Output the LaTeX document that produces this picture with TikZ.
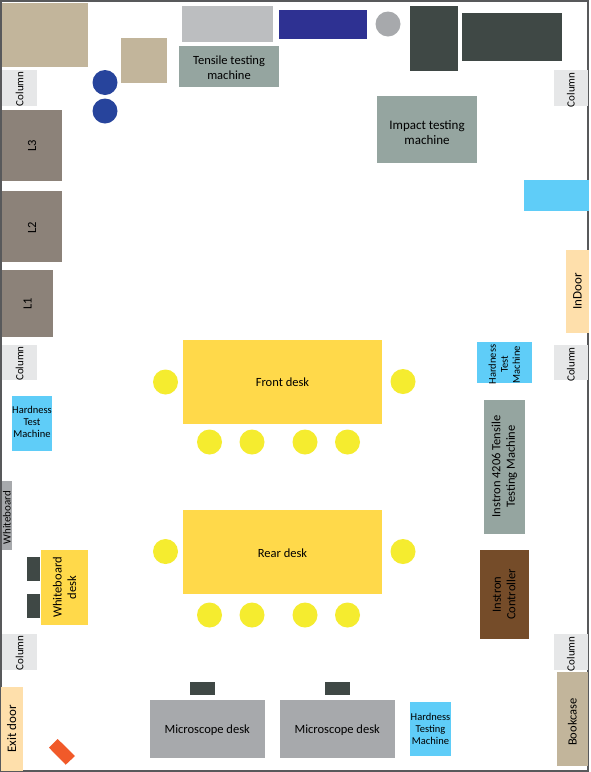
\documentclass[tikz,border=0pt]{standalone}
\usepackage{fontspec}
\setmainfont{Carlito}
\definecolor{tan}{HTML}{C2B59B}
\definecolor{lrack}{HTML}{8C8279}
\definecolor{sage}{HTML}{95A5A0}
\definecolor{darkbox}{HTML}{3F4845}
\definecolor{navy}{HTML}{2E3192}
\definecolor{bluedisc}{HTML}{27449C}
\definecolor{greyA}{HTML}{BCBEC0}
\definecolor{greyB}{HTML}{A7A9AC}
\definecolor{columncol}{HTML}{E6E7E8}
\definecolor{desk}{HTML}{FFD94A}
\definecolor{chair}{HTML}{F5EC2F}
\definecolor{cyanbox}{HTML}{5FCDF8}
\definecolor{doorcol}{HTML}{FEDFAB}
\definecolor{browncol}{HTML}{754C29}
\definecolor{orangecol}{HTML}{F15A29}
\definecolor{framecol}{HTML}{58595B}
\tikzset{
  room/.style={inner sep=0pt,outer sep=0pt,align=center,text=black,font=\fontsize{12.5}{14.5}\selectfont},
  big/.style={font=\fontsize{13}{14.5}\selectfont},
  small/.style={font=\fontsize{10.5}{12}\selectfont},
  wide/.style={font=\fontsize{11}{12}\selectfont},
  tiny/.style={font=\fontsize{11}{12}\selectfont},
  disc/.style={circle,inner sep=0pt,outer sep=0pt,minimum size=25pt},
}
% box with horizontal text: name x0 y0 x1 y1 colour options text
\newcommand{\hbx}[8]{%
  \pgfmathsetmacro{\cxx}{(#2+#4)/2}\pgfmathsetmacro{\cyy}{(#3+#5)/2+1}%
  \fill[#6] (#2,#3) rectangle (#4,#5);
  \node[room,#7] (#1) at (\cxx,\cyy) {#8};}
% box with rotated text
\newcommand{\vbx}[8]{%
  \pgfmathsetmacro{\cxx}{(#2+#4)/2}\pgfmathsetmacro{\cyy}{(#3+#5)/2}%
  \fill[#6] (#2,#3) rectangle (#4,#5);
  \node[room,rotate=90,#7] (#1) at (\cxx,\cyy) {#8};}
\begin{document}
\begin{tikzpicture}[x=1pt,y=-1pt]
\useasboundingbox (0,0) rectangle (590,772);
\fill[white] (0,0) rectangle (590,772);
\draw[framecol,line width=1.2pt] (1,1) rectangle (588,771);
% top left
\hbx{tanA}{1.5}{3}{88}{66.7}{tan}{}{}
\hbx{tanB}{121}{38}{167}{83}{tan}{}{}
\hbx{greyTop}{182}{6}{273}{42}{greyA}{}{}
\hbx{navyTop}{278.5}{9.5}{366.5}{38.5}{navy}{}{}
\node[disc,fill=greyB] (discG) at (388,24) {};
\hbx{darkA}{410}{5.5}{458}{71}{darkbox}{}{}
\hbx{darkB}{462}{13}{562}{61}{darkbox}{}{}
\hbx{tensile}{179}{46}{279}{87}{sage}{}{Tensile testing\\machine}
\node[disc,fill=bluedisc] (discA) at (105,82.5) {};
\node[disc,fill=bluedisc] (discB) at (105,111) {};
\hbx{impact}{377}{96}{477}{163}{sage}{big,yshift=-2pt}{Impact testing\\machine}
% left side
\vbx{colA}{2}{70}{37}{105.5}{columncol}{tiny,xshift=-1pt}{Column}
\vbx{lthree}{2}{109.5}{62}{180.5}{lrack}{xshift=-1pt}{L3}
\vbx{ltwo}{2}{191}{62}{262}{lrack}{xshift=-1pt}{L2}
\vbx{lone}{2}{270}{53}{337}{lrack}{}{L1}
\vbx{colB}{2}{345}{37}{380}{columncol}{tiny,xshift=-1pt}{Column}
\hbx{hardL}{12}{396}{52}{451}{cyanbox}{small,yshift=3pt}{Hardness\\Test\\Machine}
\vbx{wboard}{1.5}{481}{12}{550}{greyB}{wide,xshift=-2pt}{Whiteboard}
\hbx{darkC}{27}{557}{40}{581}{darkbox}{}{}
\hbx{darkD}{27}{594}{40}{618}{darkbox}{}{}
\vbx{wdesk}{41}{550}{88}{625}{desk}{}{Whiteboard\\desk}
\vbx{colC}{2}{634}{37}{669.5}{columncol}{tiny,xshift=-1pt}{Column}
\vbx{exitdoor}{1}{687}{22.5}{771}{doorcol}{big}{Exit door}
\fill[orangecol] (49,747.7) -- (57.7,739) -- (75,756) -- (65.7,764.7) -- cycle;
% right side
\vbx{colD}{553.5}{70}{588}{105.5}{columncol}{tiny,xshift=-2pt}{Column}
\hbx{cyanR}{524}{180}{589}{211}{cyanbox}{}{}
\vbx{indoor}{566}{250}{589}{333}{doorcol}{big}{InDoor}
\vbx{hardR}{476.5}{342}{532}{383}{cyanbox}{small,xshift=-2pt}{Hardness\\Test\\Machine}
\vbx{colE}{553.5}{345}{588}{380}{columncol}{tiny,xshift=-2pt}{Column}
\vbx{instron}{484}{399.5}{524.5}{533.5}{sage}{}{Instron 4206 Tensile\\Testing Machine}
\vbx{controller}{480}{550}{528.5}{639}{browncol}{}{Instron\\Controller}
\vbx{colF}{553.5}{634}{588}{669.5}{columncol}{tiny,xshift=-2pt}{Column}
\vbx{bookcase}{556.5}{672}{588}{766}{tan}{xshift=-3pt}{Bookcase}
% bottom
\hbx{hardB}{410}{701.5}{451}{756}{cyanbox}{small,yshift=1pt}{Hardness\\Testing\\Machine}
\hbx{microA}{150}{699.5}{264.5}{758}{greyB}{}{Microscope desk}
\hbx{microB}{280}{699.5}{394.5}{758}{greyB}{}{Microscope desk}
\hbx{darkE}{190}{682}{215}{695}{darkbox}{}{}
\hbx{darkF}{325}{682}{349.5}{695}{darkbox}{}{}
% desks
\hbx{front}{183}{339.5}{382}{423.5}{desk}{}{Front desk}
\hbx{rear}{183}{510}{382}{594}{desk}{}{Rear desk}
\foreach \nm/\cx/\cy in {fa/165.5/382,fb/403/381.5,fc/209.5/442,fd/252/442,fe/305/442,ff/347.5/442,
  ra/165.5/551.5,rb/403/551.5,rc/209.5/615,rd/252/615,re/305/615,rf/347.5/615}
  {\node[disc,fill=chair] (\nm) at (\cx,\cy) {};}
\end{tikzpicture}
\end{document}
